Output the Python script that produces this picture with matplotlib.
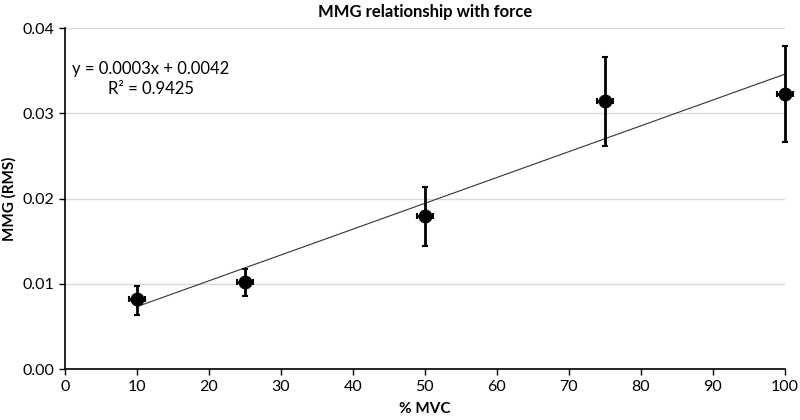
import numpy as np
import matplotlib.pyplot as plt

plt.rcParams['font.family'] = ['Liberation Sans Narrow', 'Lato', 'DejaVu Sans']

# data
mvc = [10, 25, 50, 75, 100]
mmg = [0.0082, 0.0102, 0.0180, 0.0314, 0.0323]
mmg_err_lo = [0.0018, 0.0016, 0.0035, 0.0052, 0.0057]
mmg_err_hi = [0.0016, 0.0016, 0.0034, 0.0052, 0.0056]
mvc_err = [1.1, 1.1, 1.1, 1.1, 1.1]
fit_slope = 0.000303
fit_icpt = 0.0043


def main():
    fig = plt.figure(figsize=(8, 4.2), dpi=100)
    ax = fig.add_axes([0.081, 0.121, 0.9, 0.812])

    ax.set_xlim(0, 100)
    ax.set_ylim(0, 0.04)
    ax.set_xticks(np.arange(0, 101, 10))
    ax.set_yticks([0, 0.01, 0.02, 0.03, 0.04])
    ax.set_yticklabels(['0.00', '0.01', '0.02', '0.03', '0.04'])
    ax.yaxis.grid(True, color='#d9d9d9', linewidth=1)
    ax.set_axisbelow(True)
    for s in ['top', 'right']:
        ax.spines[s].set_visible(False)
    for s in ['left', 'bottom']:
        ax.spines[s].set_linewidth(1.2)
    ax.tick_params(labelsize=11.5, length=4, width=1, direction='out')

    xs = np.array([mvc[0], mvc[-1]])
    ax.plot(xs, fit_slope * xs + fit_icpt, color='#333333', linewidth=0.8)

    eb = ax.errorbar(mvc, mmg, yerr=[mmg_err_lo, mmg_err_hi], xerr=mvc_err,
                     fmt='o', color='black', markersize=9, elinewidth=2,
                     capsize=2.5, capthick=1.5)
    for a in [eb[0], *eb[1], *eb[2]]:
        a.set_clip_on(False)

    ax.text(1, 0.0352, 'y = 0.0003x + 0.0042', fontsize=12, va='center')
    ax.text(6, 0.0329, 'R² = 0.9425', fontsize=12, va='center')

    ax.set_title('MMG relationship with force', fontsize=12, fontweight='bold', pad=8)
    ax.set_xlabel('% MVC', fontsize=11, fontweight='bold', labelpad=6)
    ax.set_ylabel('MMG (RMS)', fontsize=11, fontweight='bold')

    fig.savefig('out.png')
    plt.close(fig)


if __name__ == '__main__':
    main()
